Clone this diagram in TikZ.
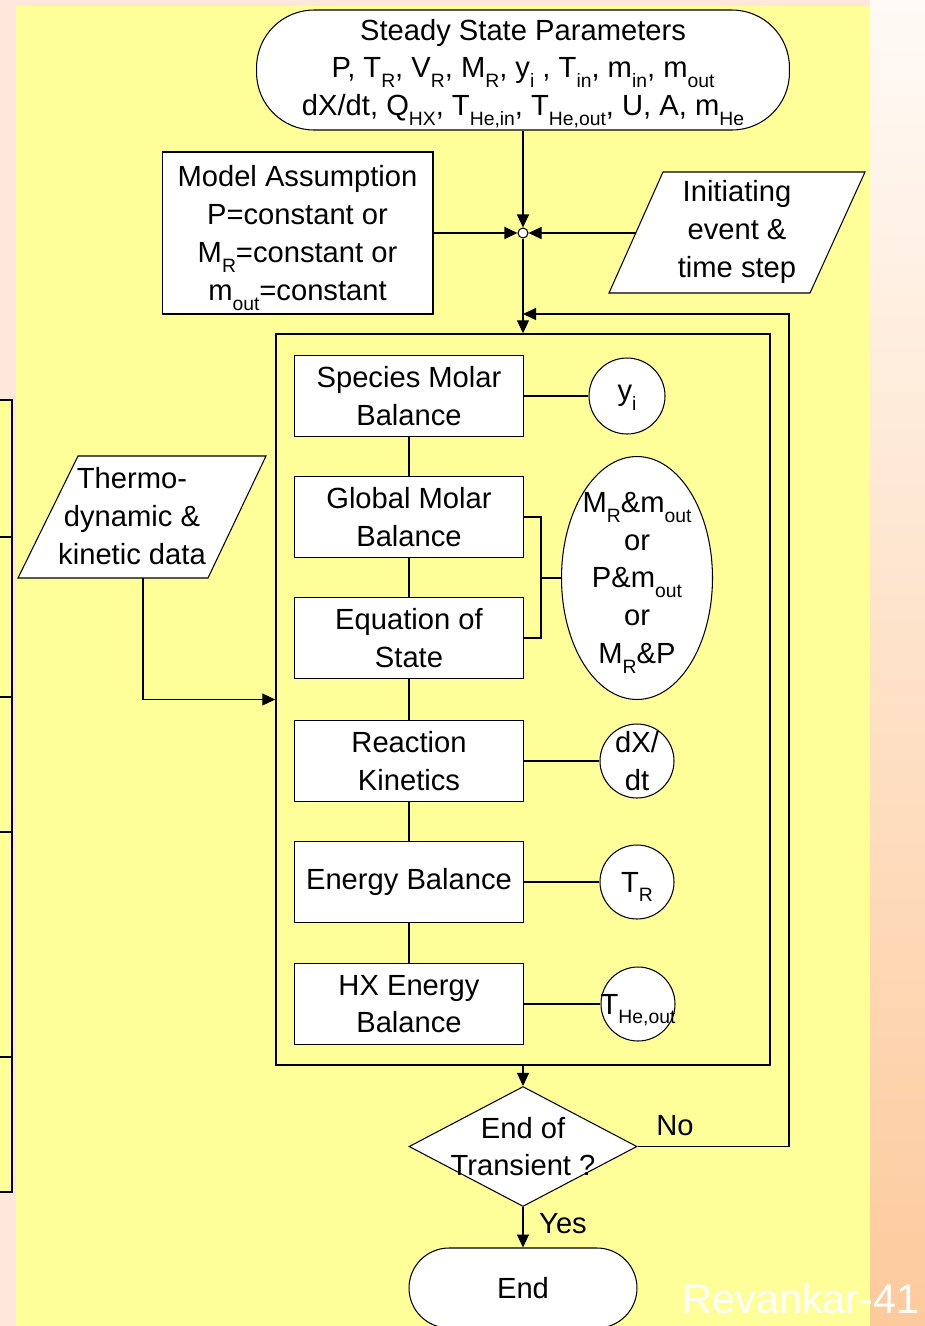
\documentclass[tikz,border=0pt]{standalone}
\usepackage{fontspec}
\setmainfont{Liberation Sans}
\usetikzlibrary{arrows.meta,shapes.geometric}

\definecolor{slide}{HTML}{FFFF99}
\definecolor{blush}{HTML}{FEE7DD}
\definecolor{peachtop}{HTML}{FFFAF6}
\definecolor{peachmid}{HTML}{FEEDE2}
\definecolor{peachlow}{HTML}{FDCA9C}

% subscripts set low, as on the slide (no extra depth)
\newcommand{\lo}[1]{\raisebox{-0.34em}[0pt][0pt]{\fontsize{11}{12}\selectfont #1}}

\begin{document}
\begin{tikzpicture}[x=0.02cm,y=-0.02cm,
		every node/.style={font=\fontsize{16.6}{21.5}\selectfont, align=center},
		flow/.style={draw=black, line width=0.6pt},
		arrow/.style={flow, -{Triangle[length=0.26cm,width=0.24cm]}},
		stepbox/.style={draw, fill=white, line width=0.6pt, minimum width=4.58cm, minimum height=1.62cm, inner sep=0pt},
		result/.style={circle, draw, fill=white, line width=0.6pt, inner sep=0pt},
		terminal/.style={draw, fill=white, line width=0.6pt, inner sep=0pt},
		sidebox/.style={draw=black, line width=1.4pt, fill=slide}]
	\clip (0,0) rectangle (925,1326);
	% slide background and yellow panel
	\fill [blush] (0,0) rectangle (925,1326);
	\shade [top color=peachtop, middle color=peachmid, bottom color=peachlow] (870,0) rectangle (925,1326);
	\fill [slide] (16,6) rectangle (870,1326);
	\foreach \top/\bot in {400/537, 537/697, 697/832, 832/1057, 1057/1192}
		\draw [sidebox] (-10,\top) rectangle (12,\bot);

	% inputs
	\node [terminal, rounded corners=1.15cm, minimum width=10.66cm, minimum height=2.4cm] (params) at (523,70)
		{Steady State Parameters\\
		 P, T\lo{R}, V\lo{R}, M\lo{R}, y\lo{i} , T\lo{in}, m\lo{in}, m\lo{out}\\
		 dX/dt, Q\lo{HX}, T\lo{He,in}, T\lo{He,out}, U, A, m\lo{He}};
	\node [terminal, minimum width=5.42cm, minimum height=3.24cm] (model) at (297.5,233)
		{Model Assumption\\P=constant or\\M\lo{R}=constant or\\m\lo{out}=constant};
	\draw [fill=white, line width=0.6pt] (663,172) -- (865,172) -- (810,293) -- (609,293) -- cycle;
	\node (init) at (737,232) {Initiating\\event \&\\time step};
	\coordinate (initside) at (636,233);
	\draw [fill=white, line width=0.6pt] (78,456) -- (266,456) -- (208,578) -- (18,578) -- cycle;
	\node (thermo) at (132,516) {Thermo-\\dynamic \&\\kinetic data};
	\coordinate (thermobase) at (143,578);

	\node [result, minimum size=0.2cm] (join) at (523,233) {};

	% solver loop
	\node [draw, line width=0.9pt, minimum width=9.88cm, minimum height=14.62cm] (solver) at (523,699.5) {};
	\node [stepbox] (species) at (409,396) {Species Molar\\Balance};
	\node [stepbox] (global) at (409,517) {Global Molar\\Balance};
	\node [stepbox] (state) at (409,638) {Equation of\\State};
	\node [stepbox] (kinetics) at (409,761) {Reaction\\Kinetics};
	\node [stepbox] (energy) at (409,882) {Energy Balance};
	\node [stepbox] (hx) at (409,1004) {HX Energy\\Balance};
	\foreach \a/\b in {species/global, global/state, state/kinetics, kinetics/energy, energy/hx}
		\draw [flow] (\a) -- (\b);

	\node [result, minimum size=1.52cm] (yi) at (627,396) {y\lo{i}};
	\node [ellipse, draw, fill=white, line width=0.6pt, inner sep=0pt, minimum width=3.02cm, minimum height=4.86cm,
		label={center:M\lo{R}\&m\lo{out}\\or\\P\&m\lo{out}\\or\\M\lo{R}\&P}] (mix) at (637,578) {};
	\node [result, minimum size=1.48cm] (rate) at (637,761) {dX/\\dt};
	\node [result, minimum size=1.48cm] (tr) at (637,882) {T\lo{R}};
	\node [result, minimum size=1.48cm, label={center:T\lo{He,out}}] (thout) at (638,1004) {};
	\coordinate (fork) at (541,578);

	\draw [flow] (species) -- (yi);
	\draw [flow] (global.east) -| (fork);
	\draw [flow] (state.east) -| (fork);
	\draw [flow] (fork) -- (mix);
	\draw [flow] (kinetics) -- (rate);
	\draw [flow] (energy) -- (tr);
	\draw [flow] (hx) -- (thout);

	% end of transient test
	\node [diamond, draw, fill=white, line width=0.6pt, inner sep=0pt, minimum width=4.56cm, minimum height=2.4cm,
		label={center:End of\\Transient ?}] (decision) at (523,1146.5) {};
	\node [terminal, rounded corners=0.8cm, minimum width=4.56cm, minimum height=1.6cm] (finish) at (523,1288) {End};
	\node (no) at (675,1126) {No};
	\node (yes) at (563,1224) {Yes};
	\coordinate (turn) at (789,314);
	\coordinate (back) at (523,314);

	% connectors
	\draw [arrow] (params) -- (join);
	\draw [arrow] (model) -- (join);
	\draw [arrow] (initside) -- (join);
	\draw [arrow] (join) -- (solver);
	\draw [arrow] (thermobase) |- (solver.west);
	\draw [arrow] (solver) -- (decision);
	\draw [arrow] (decision.east) -| (turn) -- (back);
	\draw [arrow] (decision) -- (finish);

	\node [text=white, font=\fontsize{23.6}{28}\selectfont] (pageno) at (801,1299) {Revankar-41};
\end{tikzpicture}
\end{document}
